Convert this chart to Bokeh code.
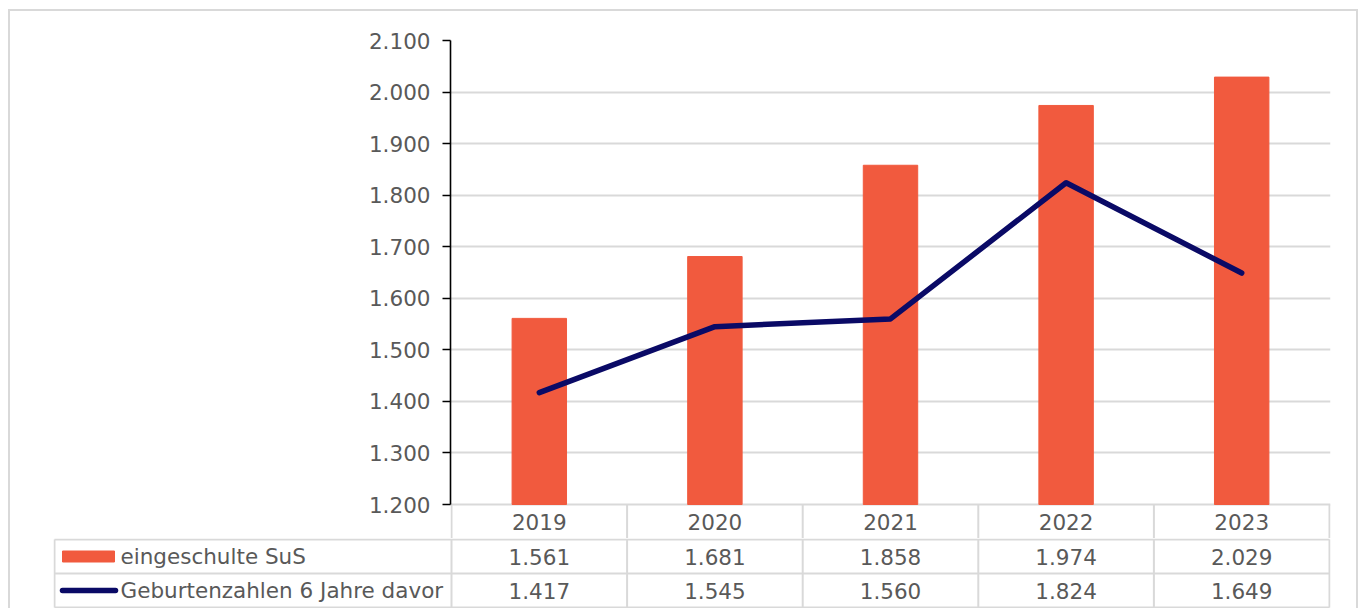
import numpy as np
from bokeh.plotting import figure
from bokeh.layouts import column, row
from bokeh.models import Range1d, FixedTicker
from bokeh.embed import file_html
from bokeh.resources import INLINE
from bokeh.core.properties import value

# ---------------- data ----------------
years = ["2019", "2020", "2021", "2022", "2023"]
eingeschulte = [1561, 1681, 1858, 1974, 2029]
geburten = [1417, 1545, 1560, 1824, 1649]
y_ticks = [1200, 1300, 1400, 1500, 1600, 1700, 1800, 1900, 2000, 2100]
series_names = ["eingeschulte SuS", "Geburtenzahlen 6 Jahre davor"]


def de(v):
    return f"{v:,}".replace(",", ".")


FONT = "DejaVu Sans"
FS = "21.5px"
TXT = "#595959"
GRID = "#d9d9d9"
BAR = "#F15A3E"
LINE = "#0A0A66"

n = len(years)
xc = np.arange(n) + 0.5
bounds_x = np.arange(n + 1)
ymin, ymax = y_ticks[0], y_ticks[-1]

plot_px = 464.0          # pixel height from top tick to bottom tick
cat_px = 878.0 / n       # pixel width of one category
row_px = 34.0            # year row height
y_lo = ymin - row_px * (ymax - ymin) / plot_px
xpad = 1.0 / cat_px

# ---------------- chart ----------------
p = figure(width=1346, height=527,
           x_range=Range1d(-xpad, n + xpad), y_range=Range1d(y_lo, ymax),
           output_backend="svg", toolbar_location=None,
           min_border_left=440, min_border_right=26,
           min_border_top=29, min_border_bottom=0)
p.outline_line_color = None
p.background_fill_color = "white"
p.border_fill_color = "white"
p.xaxis.visible = False
p.xgrid.visible = False
p.ygrid.ticker = FixedTicker(ticks=y_ticks)
p.ygrid.grid_line_color = GRID
p.ygrid.grid_line_width = 2
p.yaxis.ticker = FixedTicker(ticks=y_ticks)
p.yaxis.bounds = (ymin, ymax)
p.yaxis.major_label_overrides = {t: de(t) for t in y_ticks}
p.yaxis.major_label_text_font = FONT
p.yaxis.major_label_text_font_size = FS
p.yaxis.major_label_text_color = TXT
p.yaxis.major_label_standoff = 12
p.yaxis.major_tick_out = 8
p.yaxis.major_tick_in = 0
p.yaxis.minor_tick_line_color = None
p.yaxis.axis_line_color = "black"
p.yaxis.axis_line_width = 1.6
p.yaxis.major_tick_line_color = "black"
p.yaxis.major_tick_line_width = 1.6

p.vbar(x=xc, top=eingeschulte, bottom=ymin, width=0.31, color=BAR)
p.line(xc, geburten, line_width=5.5, color=LINE, line_cap="round", line_join="round")

# year row of the data table
p.segment(x0=bounds_x, y0=y_lo, x1=bounds_x, y1=ymin, line_color=GRID, line_width=2)
p.text(x=xc, y=(y_lo + ymin) / 2, text=years, text_font=value(FONT),
       text_font_size=FS, text_color=TXT, text_align="center", text_baseline="middle")

# ---------------- table rows ----------------
tbl_left_px = 54.0
x_tbl_left = -(451.0 - tbl_left_px) / cat_px
ypad = 1.0 / 34.0
t = figure(width=1346, height=70,
           x_range=Range1d(x_tbl_left - xpad, n + xpad), y_range=Range1d(2 + ypad, -ypad),
           output_backend="svg", toolbar_location=None,
           min_border_left=43, min_border_right=26,
           min_border_top=0, min_border_bottom=0)
t.outline_line_color = None
t.axis.visible = False
t.grid.visible = False
t.background_fill_color = "white"
t.border_fill_color = "white"

vx = [x_tbl_left] + list(bounds_x)
t.segment(x0=vx, y0=0, x1=vx, y1=2, line_color=GRID, line_width=2)
t.segment(x0=x_tbl_left, y0=[0, 1, 2], x1=n, y1=[0, 1, 2], line_color=GRID, line_width=2)

# legend keys
t.rect(x=-(451.0 - 88.0) / cat_px, y=0.5, width=52, height=11,
       width_units="screen", height_units="screen", color=BAR)
t.segment(x0=-(451.0 - 62.0) / cat_px, y0=1.5, x1=-(451.0 - 115.0) / cat_px, y1=1.5,
          line_color=LINE, line_width=5.5, line_cap="round")
t.text(x=-(451.0 - 120.0) / cat_px, y=[0.5, 1.5], text=series_names, text_font=value(FONT),
       text_font_size=FS, text_color=TXT, text_align="left", text_baseline="middle")

# values
t.text(x=xc, y=0.5, text=[de(v) for v in eingeschulte], text_font=value(FONT),
       text_font_size=FS, text_color=TXT, text_align="center", text_baseline="middle")
t.text(x=xc, y=1.5, text=[de(v) for v in geburten], text_font=value(FONT),
       text_font_size=FS, text_color=TXT, text_align="center", text_baseline="middle")

layout = column(row(p), row(t), spacing=0, styles={
    "margin-left": "8px",
    "margin-top": "9px",
    "border-top": "2px solid #d9d9d9",
    "border-left": "2px solid #d9d9d9",
    "border-right": "2px solid #d9d9d9",
})

open("out.html", "w").write(file_html(layout, INLINE))
